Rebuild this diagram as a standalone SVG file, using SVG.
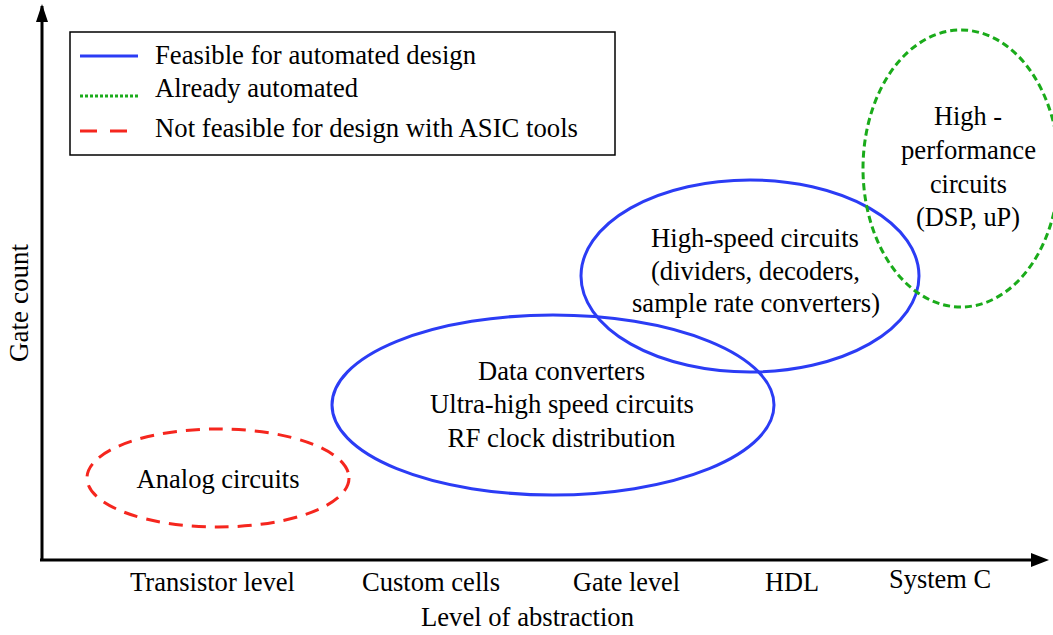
<svg xmlns="http://www.w3.org/2000/svg" width="1053" height="635" viewBox="0 0 1053 635">
<style>
text{font-family:"Liberation Serif","Times New Roman",serif;font-size:26.5px;fill:#000;text-anchor:middle}
.lg{text-anchor:start}
.blue{fill:none;stroke:#2b3cf5;stroke-width:3}
.green{fill:none;stroke:#1aab1a;stroke-width:3;stroke-dasharray:7 4}
.red{fill:none;stroke:#f5261e;stroke-width:3;stroke-dasharray:14 9}
.axis{stroke:#000;stroke-width:3;fill:none}
</style>
<g id="connectors">
<path class="axis" d="M42,561 L42,6"/>
<path d="M42,4 L36,22 L48,22 z" fill="#000"/>
<path class="axis" d="M40,560 L1035,560"/>
<path d="M1049,560 L1031,553 L1031,567 z" fill="#000"/>
</g>
<g id="legend">
<rect x="70" y="32" width="545" height="123" fill="#fff" stroke="#000" stroke-width="1.5"/>
<line x1="80" y1="56" x2="138" y2="56" stroke="#2b3cf5" stroke-width="3"/>
<line x1="80" y1="96" x2="138" y2="96" stroke="#1aab1a" stroke-width="3" stroke-dasharray="3 2"/>
<line x1="80" y1="131" x2="138" y2="131" stroke="#f5261e" stroke-width="3" stroke-dasharray="17 13"/>
<text class="lg" x="155" y="64" textLength="321" lengthAdjust="spacingAndGlyphs">Feasible for automated design</text>
<text class="lg" x="155" y="97" textLength="203" lengthAdjust="spacingAndGlyphs">Already automated</text>
<text class="lg" x="155" y="137" textLength="423" lengthAdjust="spacingAndGlyphs">Not feasible for design with ASIC tools</text>
</g>
<g id="analog">
<ellipse class="red" cx="218" cy="478" rx="131" ry="49"/>
<text x="218" y="488" textLength="163" lengthAdjust="spacingAndGlyphs">Analog circuits</text>
</g>
<g id="data-converters">
<ellipse class="blue" cx="553" cy="405" rx="221" ry="90"/>
<text x="561.5" y="380" textLength="167" lengthAdjust="spacingAndGlyphs">Data converters</text>
<text x="562" y="413" textLength="264" lengthAdjust="spacingAndGlyphs">Ultra-high speed circuits</text>
<text x="561.5" y="447" textLength="228" lengthAdjust="spacingAndGlyphs">RF clock distribution</text>
</g>
<g id="high-speed">
<ellipse class="blue" cx="750" cy="276" rx="169" ry="96"/>
<text x="755" y="247" textLength="208" lengthAdjust="spacingAndGlyphs">High-speed circuits</text>
<text x="755.5" y="280" textLength="209" lengthAdjust="spacingAndGlyphs">(dividers, decoders,</text>
<text x="756" y="312" textLength="248" lengthAdjust="spacingAndGlyphs">sample rate converters)</text>
</g>
<g id="high-performance">
<ellipse class="green" cx="961" cy="168.5" rx="98" ry="138.5"/>
<text x="968" y="125" textLength="68" lengthAdjust="spacingAndGlyphs">High -</text>
<text x="968.5" y="159" textLength="135" lengthAdjust="spacingAndGlyphs">performance</text>
<text x="968.5" y="193" textLength="77" lengthAdjust="spacingAndGlyphs">circuits</text>
<text x="968" y="226" textLength="104" lengthAdjust="spacingAndGlyphs">(DSP, uP)</text>
</g>
<g id="axis-labels">
<text x="212.5" y="591" textLength="165" lengthAdjust="spacingAndGlyphs">Transistor level</text>
<text x="431" y="591" textLength="138" lengthAdjust="spacingAndGlyphs">Custom cells</text>
<text x="626.5" y="591" textLength="107" lengthAdjust="spacingAndGlyphs">Gate level</text>
<text x="792" y="591" textLength="54" lengthAdjust="spacingAndGlyphs">HDL</text>
<text x="940" y="588" textLength="102" lengthAdjust="spacingAndGlyphs">System C</text>
<text x="527.5" y="626" textLength="213" lengthAdjust="spacingAndGlyphs">Level of abstraction</text>
<text transform="translate(28,303) rotate(-90)" textLength="118" lengthAdjust="spacingAndGlyphs">Gate count</text>
</g>
</svg>
